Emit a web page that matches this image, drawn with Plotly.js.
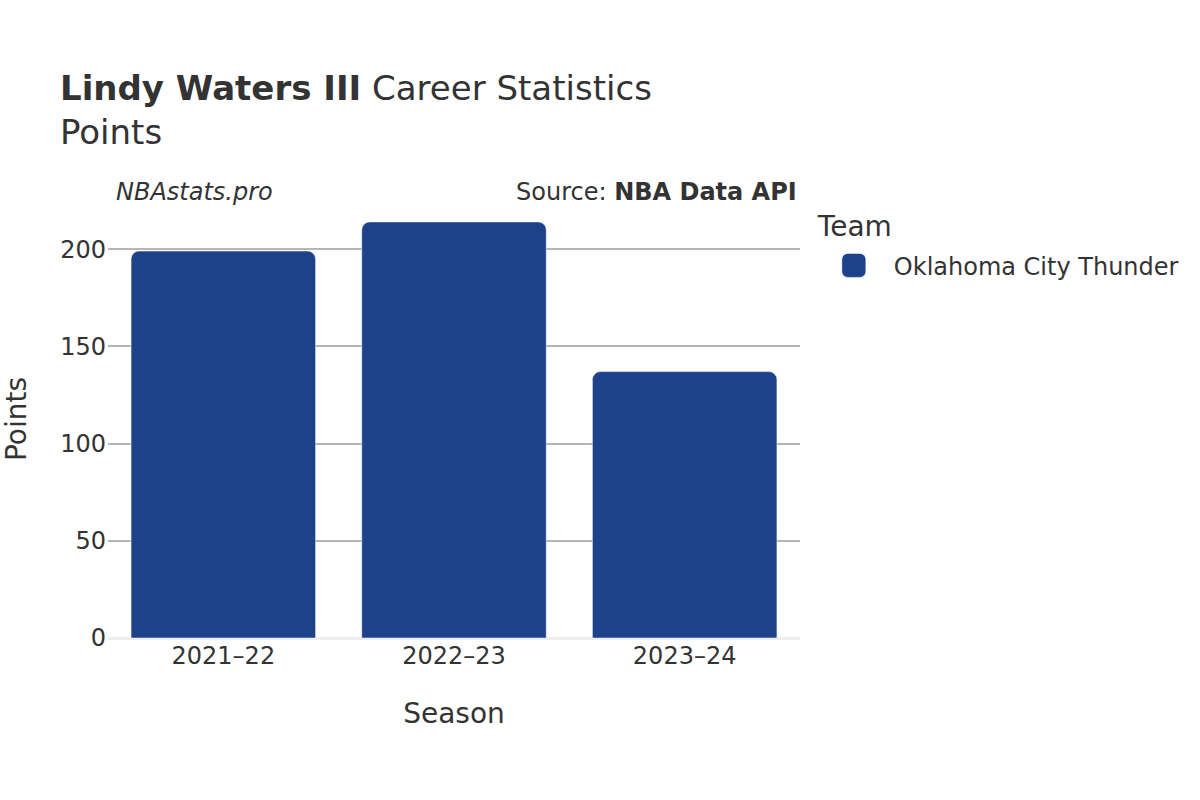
<!DOCTYPE html>
<html>
<head>
<meta charset="utf-8">
<script src="https://cdn.plot.ly/plotly-3.0.1.min.js"></script>
<style>
html,body{margin:0;padding:0;background:#fff;overflow:hidden;}
#wrap{width:1200px;height:800px;overflow:hidden;}
#chart{width:600px;height:400px;transform-origin:0 0;}
</style>
</head>
<body>
<div id="wrap"><div id="chart"></div></div>
<script>
const seasons = ["2021–22", "2022–23", "2023–24"];
const points = [199, 214, 137];
const teamName = "Oklahoma City Thunder";
const teamColor = "#1D428A";

const data = [{
  type: "bar",
  x: seasons,
  y: points,
  name: teamName,
  marker: {color: teamColor, line: {color: "rgba(255,255,255,0.5)", width: 0.5}},
  hoverinfo: "x+y"
}];

const layout = {
  width: 600,
  height: 400,
  font: {family: "DejaVu Sans, sans-serif", color: "#333", size: 12},
  paper_bgcolor: "#fff",
  plot_bgcolor: "#fff",
  margin: {l: 54, r: 200, t: 100, b: 80.5, autoexpand: false},
  barcornerradius: 4,
  bargap: 0.2,
  title: {
    text: "<b>Lindy Waters III</b> Career Statistics<br>Points",
    font: {size: 17, color: "#333"},
    x: 0.05, xref: "container", xanchor: "left",
    y: 0.875, yref: "container", yanchor: "top"
  },
  xaxis: {
    title: {text: "Season", font: {size: 14}, standoff: 17},
    tickfont: {size: 12},
    showgrid: false,
    ticks: ""
  },
  yaxis: {
    title: {text: "Points", font: {size: 14}, standoff: 15},
    tickfont: {size: 12},
    gridcolor: "#b5b5b5",
    gridwidth: 1,
    zeroline: true,
    zerolinecolor: "#eee",
    zerolinewidth: 1.5,
    ticks: ""
  },
  showlegend: true,
  legend: {
    title: {text: "Team", font: {size: 14}},
    font: {size: 12},
    x: 1.02, xanchor: "left",
    y: 1.0, yanchor: "top"
  },
  annotations: [
    {text: "<i>NBAstats.pro</i>", xref: "paper", yref: "paper", x: 0.005, y: 1.018,
     xanchor: "left", yanchor: "middle", showarrow: false, font: {size: 12}},
    {text: "Source: <b>NBA Data API</b>", xref: "paper", yref: "paper", x: 1.0, y: 1.018,
     xanchor: "right", yanchor: "middle", showarrow: false, font: {size: 12}}
  ]
};

Plotly.newPlot("chart", data, layout, {displayModeBar: false, staticPlot: true}).then(function () {
  document.getElementById("chart").style.transform = "scale(2)";
});
</script>
</body>
</html>
